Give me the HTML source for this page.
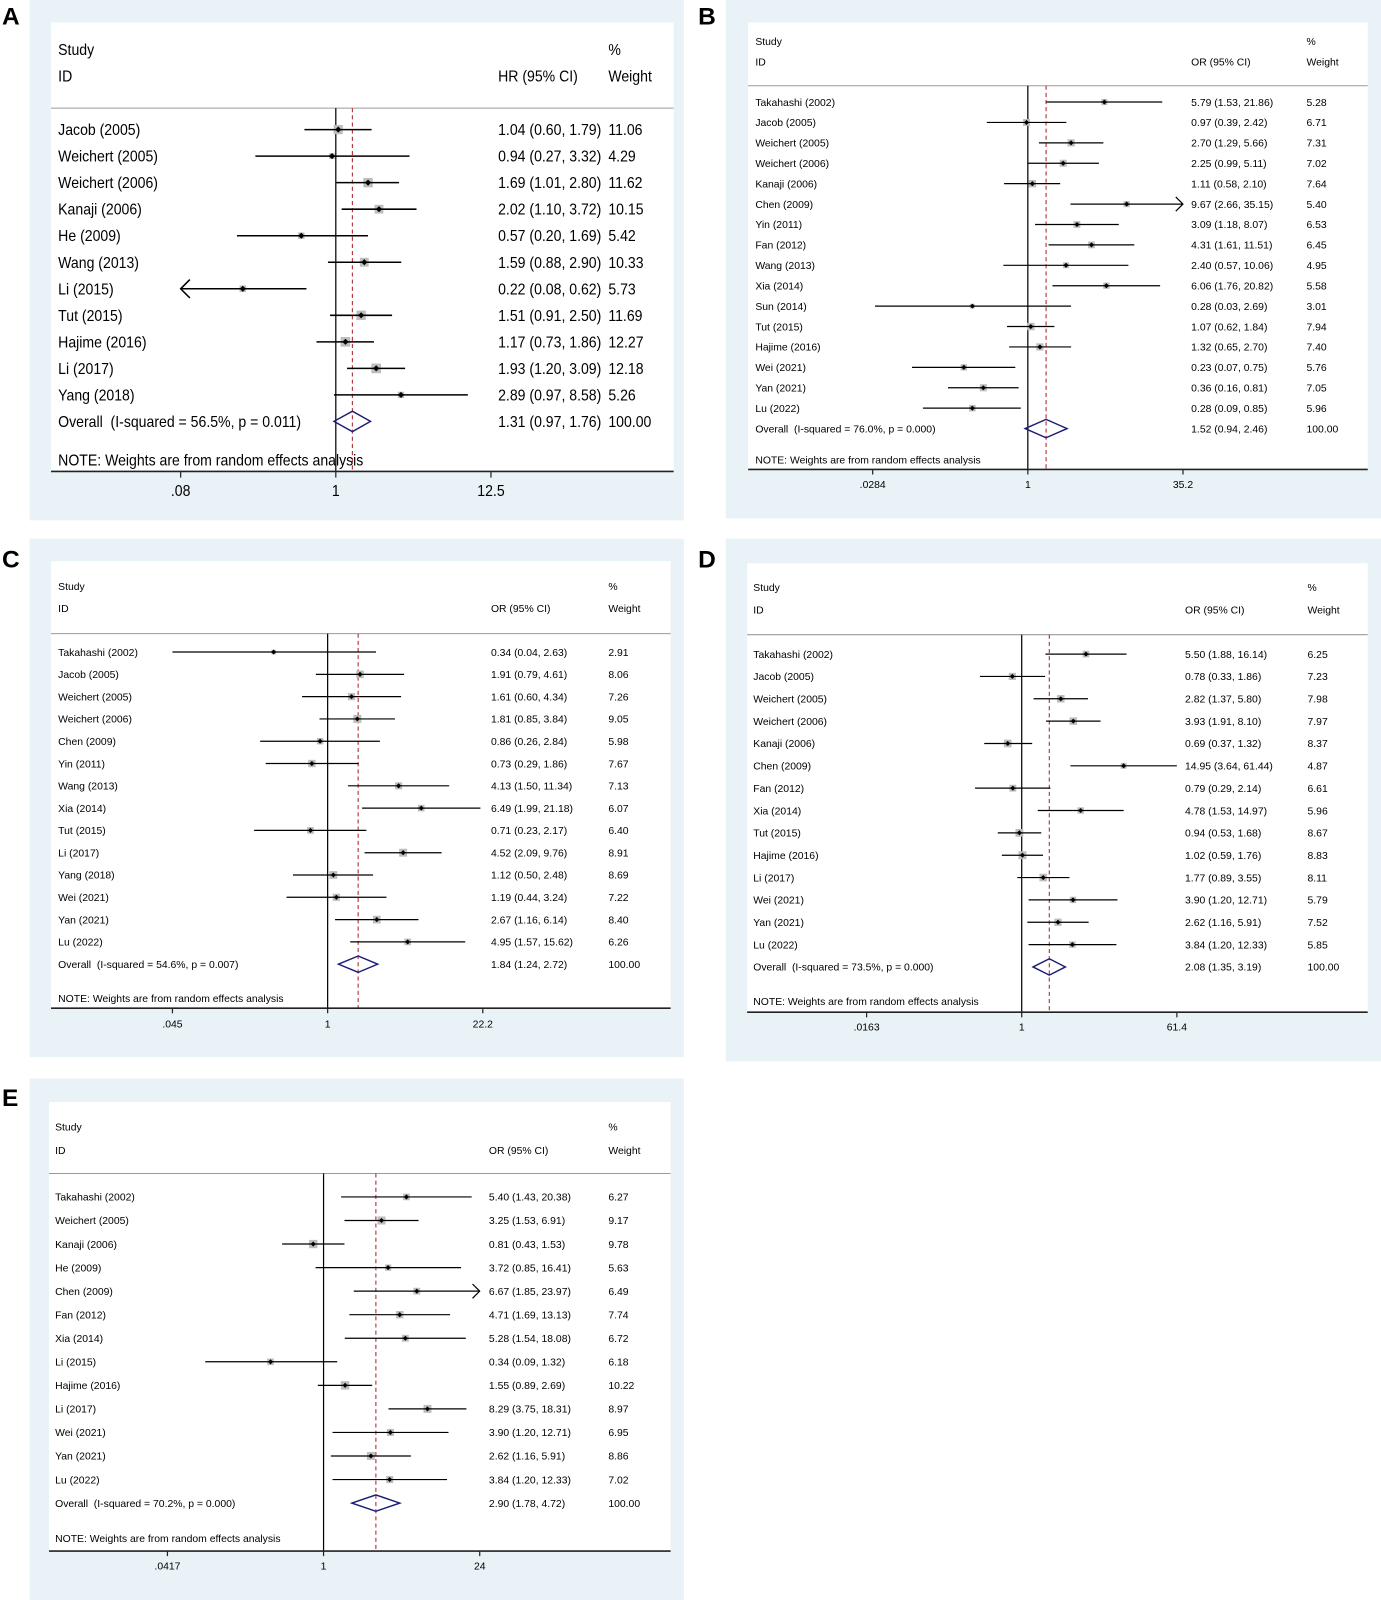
<!DOCTYPE html>
<html><head><meta charset="utf-8">
<style>
html,body{margin:0;padding:0;background:#fff;}
svg{display:block;font-family:"Liberation Sans",Arial,sans-serif;}
svg text{white-space:pre;}
</style></head>
<body>
<svg id="fig" width="1381" height="1600" viewBox="0 0 1353 1568" preserveAspectRatio="none" xmlns="http://www.w3.org/2000/svg"></svg>
<script>
// ---------- Panel A data ----------
const aLabels=["Jacob (2005)","Weichert (2005)","Weichert (2006)","Kanaji (2006)","He (2009)","Wang (2013)","Li (2015)","Tut (2015)","Hajime (2016)","Li (2017)","Yang (2018)"];
const aEst=[1.04,0.94,1.69,2.02,0.57,1.59,0.22,1.51,1.17,1.93,2.89];
const aLo=[0.60,0.27,1.01,1.10,0.20,0.88,0.08,0.91,0.73,1.20,0.97];
const aHi=[1.79,3.32,2.80,3.72,1.69,2.90,0.62,2.50,1.86,3.09,8.58];
const aW=[11.06,4.29,11.62,10.15,5.42,10.33,5.73,11.69,12.27,12.18,5.26];
const aOverall=[1.31,0.97,1.76];
const aHet=["56.5%","0.011"];
const aTicks=[0.08,1,12.5];
const aTickLabels=[".08","1","12.5"];
const aArrowLeft=[6];
const aArrowRight=[];
// ---------- Panel B data ----------
const bLabels=["Takahashi (2002)","Jacob (2005)","Weichert (2005)","Weichert (2006)","Kanaji (2006)","Chen (2009)","Yin (2011)","Fan (2012)","Wang (2013)","Xia (2014)","Sun (2014)","Tut (2015)","Hajime (2016)","Wei (2021)","Yan (2021)","Lu (2022)"];
const bEst=[5.79,0.97,2.70,2.25,1.11,9.67,3.09,4.31,2.40,6.06,0.28,1.07,1.32,0.23,0.36,0.28];
const bLo=[1.53,0.39,1.29,0.99,0.58,2.66,1.18,1.61,0.57,1.76,0.03,0.62,0.65,0.07,0.16,0.09];
const bHi=[21.86,2.42,5.66,5.11,2.10,35.15,8.07,11.51,10.06,20.82,2.69,1.84,2.70,0.75,0.81,0.85];
const bW=[5.28,6.71,7.31,7.02,7.64,5.40,6.53,6.45,4.95,5.58,3.01,7.94,7.40,5.76,7.05,5.96];
const bOverall=[1.52,0.94,2.46];
const bHet=["76.0%","0.000"];
const bTicks=[0.0284,1,35.2];
const bTickLabels=[".0284","1","35.2"];
const bArrowLeft=[];
const bArrowRight=[5];
// ---------- Panel C data ----------
const cLabels=["Takahashi (2002)","Jacob (2005)","Weichert (2005)","Weichert (2006)","Chen (2009)","Yin (2011)","Wang (2013)","Xia (2014)","Tut (2015)","Li (2017)","Yang (2018)","Wei (2021)","Yan (2021)","Lu (2022)"];
const cEst=[0.34,1.91,1.61,1.81,0.86,0.73,4.13,6.49,0.71,4.52,1.12,1.19,2.67,4.95];
const cLo=[0.04,0.79,0.60,0.85,0.26,0.29,1.50,1.99,0.23,2.09,0.50,0.44,1.16,1.57];
const cHi=[2.63,4.61,4.34,3.84,2.84,1.86,11.34,21.18,2.17,9.76,2.48,3.24,6.14,15.62];
const cW=[2.91,8.06,7.26,9.05,5.98,7.67,7.13,6.07,6.40,8.91,8.69,7.22,8.40,6.26];
const cOverall=[1.84,1.24,2.72];
const cHet=["54.6%","0.007"];
const cTicks=[0.045,1,22.2];
const cTickLabels=[".045","1","22.2"];
const cArrowLeft=[];
const cArrowRight=[];
// ---------- Panel D data ----------
const dLabels=["Takahashi (2002)","Jacob (2005)","Weichert (2005)","Weichert (2006)","Kanaji (2006)","Chen (2009)","Fan (2012)","Xia (2014)","Tut (2015)","Hajime (2016)","Li (2017)","Wei (2021)","Yan (2021)","Lu (2022)"];
const dEst=[5.50,0.78,2.82,3.93,0.69,14.95,0.79,4.78,0.94,1.02,1.77,3.90,2.62,3.84];
const dLo=[1.88,0.33,1.37,1.91,0.37,3.64,0.29,1.53,0.53,0.59,0.89,1.20,1.16,1.20];
const dHi=[16.14,1.86,5.80,8.10,1.32,61.44,2.14,14.97,1.68,1.76,3.55,12.71,5.91,12.33];
const dW=[6.25,7.23,7.98,7.97,8.37,4.87,6.61,5.96,8.67,8.83,8.11,5.79,7.52,5.85];
const dOverall=[2.08,1.35,3.19];
const dHet=["73.5%","0.000"];
const dTicks=[0.0163,1,61.4];
const dTickLabels=[".0163","1","61.4"];
const dArrowLeft=[];
const dArrowRight=[];
// ---------- Panel E data ----------
const eLabels=["Takahashi (2002)","Weichert (2005)","Kanaji (2006)","He (2009)","Chen (2009)","Fan (2012)","Xia (2014)","Li (2015)","Hajime (2016)","Li (2017)","Wei (2021)","Yan (2021)","Lu (2022)"];
const eEst=[5.40,3.25,0.81,3.72,6.67,4.71,5.28,0.34,1.55,8.29,3.90,2.62,3.84];
const eLo=[1.43,1.53,0.43,0.85,1.85,1.69,1.54,0.09,0.89,3.75,1.20,1.16,1.20];
const eHi=[20.38,6.91,1.53,16.41,23.97,13.13,18.08,1.32,2.69,18.31,12.71,5.91,12.33];
const eW=[6.27,9.17,9.78,5.63,6.49,7.74,6.72,6.18,10.22,8.97,6.95,8.86,7.02];
const eOverall=[2.90,1.78,4.72];
const eHet=["70.2%","0.000"];
const eTicks=[0.0417,1,24];
const eTickLabels=[".0417","1","24"];
const eArrowLeft=[];
const eArrowRight=[4];

const NS="http://www.w3.org/2000/svg";
const svg=document.getElementById('fig');
function mk(tag,attrs,parent,text){
  const el=document.createElementNS(NS,tag);
  for(const k in attrs) el.setAttribute(k,attrs[k]);
  if(text!==undefined) el.textContent=text;
  (parent||svg).appendChild(el);
  return el;
}
function f2(v){return v.toFixed(2);}
// text helper with horizontal condensing
function tx(x,y,fs,parent,str,sc,anchor){
  const a={'font-size':fs,transform:`translate(${x},${y}) scale(${sc},1)`,x:0,y:0};
  if(anchor) a['text-anchor']=anchor;
  return mk('text',a,parent,str);
}

function drawPanel(id,letter,L,labels,est,lo,hi,w,overall,het,ticks,tickLabels,arrL,arrR,measure){
  const g=mk('g',{});
  
  
  const bg=mk('rect',{x:L.bx0,y:L.by0,width:L.bx1-L.bx0,height:L.by1-L.by0,fill:'#e9f2f6'},g);
  
  
  const wr=mk('rect',{x:L.wx0,y:L.wy0,width:L.wx1-L.wx0,height:L.axisY-L.wy0,fill:'#ffffff'},g);
  
  
  const lt=mk('text',{x:L.letterX,y:L.letterY,'font-size':24,'font-weight':'bold',fill:'#000'},g,letter);
  
  
  const fs=L.fs, sc=L.sc;
  const h1=tx(L.labX,L.studyY,fs,g,'Study',sc);
  
  
  const h2=tx(L.labX,L.idY,fs,g,'ID',sc);
  
  
  const h3=tx(L.ciX,L.idY,fs,g,measure+' (95% CI)',sc);
  
  
  const h4=tx(L.wX,L.studyY,fs,g,'%',sc);
  
  
  const h5=tx(L.wX,L.idY,fs,g,'Weight',sc);
  
  
  const sep=mk('line',{x1:L.wx0,x2:L.wx1,y1:L.sepY,y2:L.sepY,stroke:'#9a9a9a','stroke-width':1},g);
  
  
  const tmin=ticks[0],tmax=ticks[ticks.length-1];
  const k=(L.xMax-L.xNull)/Math.log(tmax);
  const sx=v=>L.xNull+Math.log(Math.min(Math.max(v,tmin),tmax))*k;
  const nl=mk('line',{x1:sx(1),x2:sx(1),y1:L.sepY,y2:L.axisY,stroke:'#000','stroke-width':1.2},g);
  
  
  const ol=mk('line',{x1:sx(overall[0]),x2:sx(overall[0]),y1:L.sepY,y2:L.axisY,stroke:'#b2333a','stroke-width':1.1,'stroke-dasharray':'4,3'},g);
  
  
  for(let i=0;i<labels.length;i++){
    const y=L.row0+i*L.rowH;
    const rg=mk('g',{},g);
    
    
    const t=tx(L.labX,y+fs*0.36,fs,rg,labels[i],sc);
    
    
    const ci=tx(L.ciX,y+fs*0.36,fs,rg,f2(est[i])+' ('+f2(lo[i])+', '+f2(hi[i])+')',sc);
    
    
    const wt=tx(L.wX,y+fs*0.36,fs,rg,f2(w[i]),sc);
    
    
    const s=L.boxK*Math.sqrt(w[i]);
    const bx=mk('rect',{x:sx(est[i])-s/2,y:y-s/2,width:s,height:s,fill:'#bdbdbd'},rg);
    
    
    const cl=mk('line',{x1:sx(lo[i]),x2:sx(hi[i]),y1:y,y2:y,stroke:'#000','stroke-width':L.lw},rg);
    
    
    const px=sx(est[i]),r=L.dot;
    const pt=mk('path',{d:`M${px-r},${y}L${px},${y-r}L${px+r},${y}L${px},${y+r}Z`,fill:'#000'},rg);
    
    
    if(arrL.indexOf(i)>=0){
      const a=mk('path',{d:`M${sx(lo[i])+L.ah},${y-L.ah}L${sx(lo[i])},${y}L${sx(lo[i])+L.ah},${y+L.ah}`,fill:'none',stroke:'#000','stroke-width':L.lw},rg);
      
      
    }
    if(arrR.indexOf(i)>=0){
      const a=mk('path',{d:`M${sx(hi[i])-L.ah},${y-L.ah}L${sx(hi[i])},${y}L${sx(hi[i])-L.ah},${y+L.ah}`,fill:'none',stroke:'#000','stroke-width':L.lw},rg);
      
      
    }
  }
  const oy=L.row0+labels.length*L.rowH;
  const ot=tx(L.labX,oy+fs*0.36,fs,g,'Overall  (I-squared = '+het[0]+', p = '+het[1]+')',sc);
  
  
  const oc=tx(L.ciX,oy+fs*0.36,fs,g,f2(overall[0])+' ('+f2(overall[1])+', '+f2(overall[2])+')',sc);
  
  
  const ow=tx(L.wX,oy+fs*0.36,fs,g,'100.00',sc);
  
  
  const dh=L.dh;
  const dm=mk('path',{d:`M${sx(overall[1])},${oy}L${sx(overall[0])},${oy-dh}L${sx(overall[2])},${oy}L${sx(overall[0])},${oy+dh}Z`,fill:'none',stroke:'#1d1d74','stroke-width':1.4},g);
  
  
  const nt=tx(L.labX,L.noteY,fs,g,'NOTE: Weights are from random effects analysis',sc);
  
  
  const ax=mk('line',{x1:L.wx0,x2:L.wx1,y1:L.axisY,y2:L.axisY,stroke:'#222','stroke-width':1.6},g);
  
  
  for(let j=0;j<ticks.length;j++){
    const tX=sx(ticks[j]);
    const tk=mk('line',{x1:tX,x2:tX,y1:L.axisY,y2:L.axisY+L.tickLen,stroke:'#222','stroke-width':1.2},g);
    
    
    const tl=tx(tX,L.tickLabY,L.tfs,g,tickLabels[j],sc,'middle');
    
    
  }
}

drawPanel('a','A',{bx0:29,bx1:670,by0:0,by1:510,wx0:50,wx1:660,wy0:22,axisY:462,letterX:2,letterY:24,fs:15,sc:0.92,labX:57,ciX:488,wX:596,studyY:54,idY:80,sepY:106,row0:127,rowH:26,xNull:329,xMax:481,boxK:2.7,dot:3,lw:1.5,ah:9,dh:10,noteY:456,tickLen:6,tickLabY:486,tfs:15},
  aLabels,aEst,aLo,aHi,aW,aOverall,aHet,aTicks,aTickLabels,aArrowLeft,aArrowRight,'HR');
drawPanel('b','B',{bx0:711,bx1:1353,by0:0,by1:508,wx0:733,wx1:1340,wy0:22,axisY:460,letterX:684,letterY:24,fs:10.2,sc:1,labX:740,ciX:1167,wX:1280,studyY:44,idY:64,sepY:84,row0:100,rowH:20,xNull:1007,xMax:1159,boxK:2.6,dot:2.5,lw:1.2,ah:7,dh:9,noteY:454,tickLen:5,tickLabY:478,tfs:10.2},
  bLabels,bEst,bLo,bHi,bW,bOverall,bHet,bTicks,bTickLabels,bArrowLeft,bArrowRight,'OR');
drawPanel('c','C',{bx0:29,bx1:670,by0:528,by1:1036,wx0:50,wx1:657,wy0:550,axisY:988,letterX:2,letterY:556,fs:10.2,sc:1,labX:57,ciX:481,wX:596,studyY:578,idY:600,sepY:621,row0:639,rowH:21.85,xNull:321,xMax:473,boxK:2.6,dot:2.5,lw:1.2,ah:7,dh:8,noteY:982,tickLen:5,tickLabY:1007,tfs:10.2},
  cLabels,cEst,cLo,cHi,cW,cOverall,cHet,cTicks,cTickLabels,cArrowLeft,cArrowRight,'OR');
drawPanel('d','D',{bx0:711,bx1:1353,by0:528,by1:1040,wx0:732,wx1:1340,wy0:552,axisY:992,letterX:684,letterY:556,fs:10.2,sc:1,labX:738,ciX:1161,wX:1281,studyY:579,idY:601,sepY:622,row0:641,rowH:21.9,xNull:1001,xMax:1153,boxK:2.6,dot:2.5,lw:1.2,ah:7,dh:8,noteY:985,tickLen:5,tickLabY:1010,tfs:10.2},
  dLabels,dEst,dLo,dHi,dW,dOverall,dHet,dTicks,dTickLabels,dArrowLeft,dArrowRight,'OR');
drawPanel('e','E',{bx0:29,bx1:670,by0:1057,by1:1568,wx0:48,wx1:657,wy0:1080,axisY:1520,letterX:2,letterY:1084,fs:10.2,sc:1,labX:54,ciX:479,wX:596,studyY:1108,idY:1131,sepY:1150,row0:1173,rowH:23.08,xNull:317,xMax:470,boxK:2.6,dot:2.5,lw:1.2,ah:7,dh:8,noteY:1511,tickLen:5,tickLabY:1538,tfs:10.2},
  eLabels,eEst,eLo,eHi,eW,eOverall,eHet,eTicks,eTickLabels,eArrowLeft,eArrowRight,'OR');
</script>
</body></html>
